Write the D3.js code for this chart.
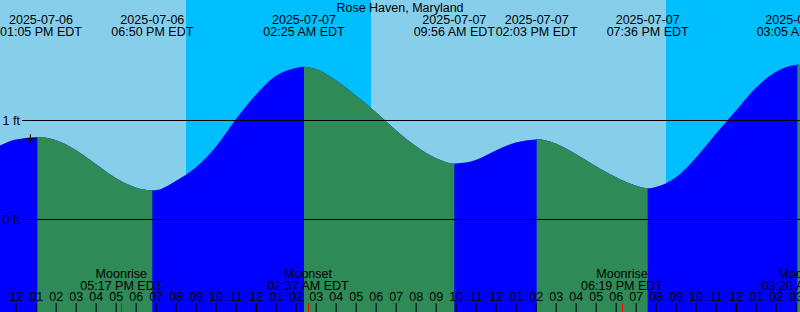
<!DOCTYPE html>
<meta charset="utf-8">
<style>
  body { margin: 0; }
  svg {
    display: block;
    font-family: "Liberation Sans", Arial, sans-serif;
    font-size: 12.5px;
  }
</style>
<svg id="chart" width="800" height="312"></svg>
<script src="https://d3js.org/d3.v7.min.js"></script>
<script>
// all times are local EDT, parsed as utc so the browser zone does not matter
var parse = d3.utcParse("%Y-%m-%dT%H:%M")

var station = "Rose Haven, Maryland"
var startTime = "2025-07-06T11:13"
var endTime = "2025-07-08T03:13"

// highs and lows (ft)
var tideTimes = ["2025-07-06T13:05", "2025-07-06T18:50", "2025-07-07T02:25", "2025-07-07T09:56",
                 "2025-07-07T14:03", "2025-07-07T19:36", "2025-07-08T03:05"]
var tideHeights = [0.828, 0.290, 1.538, 0.559, 0.805, 0.310, 1.557]

// hourly heights, from 11 AM Jul 6 to 4 AM Jul 8
var hourlyStart = "2025-07-06T11:00"
var hourlyHeights = [
  0.722, 0.803, 0.827, 0.798, 0.697, 0.556, 0.414, 0.319, 0.291, 0.384, 0.520, 0.727, 1.005,
  1.253, 1.444, 1.525, 1.515, 1.404, 1.247, 1.081, 0.899, 0.737, 0.616, 0.560, 0.596,
  0.692, 0.773, 0.804, 0.763, 0.657, 0.535, 0.424, 0.338, 0.323, 0.419, 0.616, 0.859,
  1.091, 1.323, 1.485, 1.556, 1.525
]

var sunTimes = ["2025-07-06T20:31", "2025-07-07T05:46", "2025-07-07T20:31"]
var sunKinds = ["set", "rise", "set"]

var moonTimes = ["2025-07-06T17:17", "2025-07-07T02:37", "2025-07-07T18:19", "2025-07-08T03:20"]
var moonKinds = ["Moonrise", "Moonset", "Moonrise", "Moonset"]

var nowTime = "2025-07-06T12:44"
var nowHeight = 0.811

var levelLines = [0, 1]

var width = 800, height = 312
var dayColor = "#87ceeb", nightColor = "#00bfff"
var risingColor = "#0000ff", fallingColor = "#2e8b57"

var t0 = parse(startTime), t1 = parse(endTime)
var x = d3.scaleUtc().domain([t0, t1]).range([0, width])
var y = d3.scaleLinear().domain([-0.939, 2.212]).range([height, 0])

var svg = d3.select("#chart")

// day / night
svg.append("rect").attr("width", width).attr("height", height).attr("fill", dayColor)
var nights = []
var nightStart = null
sunTimes.forEach(function(s, i) {
  var t = parse(s)
  if (sunKinds[i] == "set") nightStart = t
  else { nights.push([nightStart || t0, t]); nightStart = null }
})
if (nightStart) nights.push([nightStart, t1])
svg.selectAll(".night").data(nights).enter().append("rect")
  .attr("class", "night")
  .attr("x", function(d) { return x(d[0]) })
  .attr("width", function(d) { return x(d[1]) - x(d[0]) })
  .attr("height", height)
  .attr("fill", nightColor)

// the tide curve
var points = hourlyHeights.map(function(h, i) {
  return { t: d3.utcHour.offset(parse(hourlyStart), i), h: h }
})
tideTimes.forEach(function(s, i) { points.push({ t: parse(s), h: tideHeights[i] }) })
points.sort(function(a, b) { return a.t - b.t })

var area = d3.area()
  .x(function(d) { return x(d.t) })
  .y0(height)
  .y1(function(d) { return y(d.h) })
  .curve(d3.curveMonotoneX)

svg.append("path").datum(points).attr("d", area).attr("fill", risingColor)

// falling stretches are green: they end on a low
var bounds = [t0].concat(tideTimes.map(parse)).concat([t1])
var falling = []
for (var k = 0; k < bounds.length - 1; k++) {
  var endIdx = k  // index of the extreme that closes this stretch
  var isFalling
  if (endIdx < tideHeights.length) {
    var other = endIdx > 0 ? tideHeights[endIdx - 1] : tideHeights[endIdx + 1]
    isFalling = tideHeights[endIdx] < other
  } else {
    var last = tideHeights.length - 1
    isFalling = tideHeights[last] > tideHeights[last - 1]
  }
  if (isFalling) falling.push([bounds[k], bounds[k + 1]])
}
var defs = svg.append("defs")
falling.forEach(function(seg, i) {
  defs.append("clipPath").attr("id", "fall" + i).append("rect")
    .attr("x", x(seg[0])).attr("width", x(seg[1]) - x(seg[0]))
    .attr("y", 0).attr("height", height)
  svg.append("path").datum(points).attr("d", area)
    .attr("fill", fallingColor)
    .attr("clip-path", "url(#fall" + i + ")")
})

// 0 ft and 1 ft lines
levelLines.forEach(function(v) {
  svg.append("line")
    .attr("x1", 22).attr("x2", width)
    .attr("y1", Math.round(y(v)) + 0.5).attr("y2", Math.round(y(v)) + 0.5)
    .attr("stroke", "#000")
  svg.append("text").attr("x", 2.5).attr("y", y(v) + 4.5).text(v + " ft")
})

// title
svg.append("text").attr("x", width / 2).attr("y", 12)
  .attr("text-anchor", "middle").text(station)

// two line labels, moved right if they would run off the left edge
function label(t, line1, line2, y1, y2) {
  var g = svg.append("g")
  var a = g.append("text").attr("y", y1).attr("text-anchor", "middle").text(line1)
  var b = g.append("text").attr("y", y2).attr("text-anchor", "middle").text(line2)
  var w = Math.max(a.node().getComputedTextLength(), b.node().getComputedTextLength())
  var cx = Math.max(x(t), w / 2)
  a.attr("x", cx); b.attr("x", cx)
}

var fmtDate = d3.utcFormat("%Y-%m-%d"), fmtTime = d3.utcFormat("%I:%M %p EDT")
tideTimes.forEach(function(s) {
  var t = parse(s)
  label(t, fmtDate(t), fmtTime(t), 24, 36)
})
moonTimes.forEach(function(s, i) {
  var t = parse(s)
  label(t, moonKinds[i], fmtTime(t), 278, 290)
})

// hour axis along the bottom
var axis = d3.axisTop(x)
  .ticks(d3.utcHour.every(1))
  .tickFormat(d3.utcFormat("%I"))
  .tickSize(9)
  .tickPadding(2)
var ax = svg.append("g").attr("transform", "translate(0," + height + ")").call(axis)
ax.select(".domain").remove()
ax.attr("font-family", null).attr("font-size", null)
ax.selectAll(".tick text").attr("fill", "#000")
ax.selectAll(".tick line").attr("stroke", "#000")
  .attr("stroke-width", function(d) { return d.getUTCHours() == 0 ? 2 : 1 })

// moon ticks
svg.selectAll(".moon").data(moonTimes.map(parse)).enter().append("line")
  .attr("x1", function(d) { return Math.round(x(d)) + 0.5 })
  .attr("x2", function(d) { return Math.round(x(d)) + 0.5 })
  .attr("y1", height - 9).attr("y2", height)
  .attr("stroke", "#ff0000")

// current time marker
var nx = x(parse(nowTime)), ny = y(nowHeight)
svg.append("path")
  .attr("d", "M" + (nx - 4.5) + "," + ny + "H" + (nx + 4.5) + "M" + nx + "," + (ny - 4.5) + "V" + (ny + 4.5))
  .attr("stroke", "#000")
</script>
